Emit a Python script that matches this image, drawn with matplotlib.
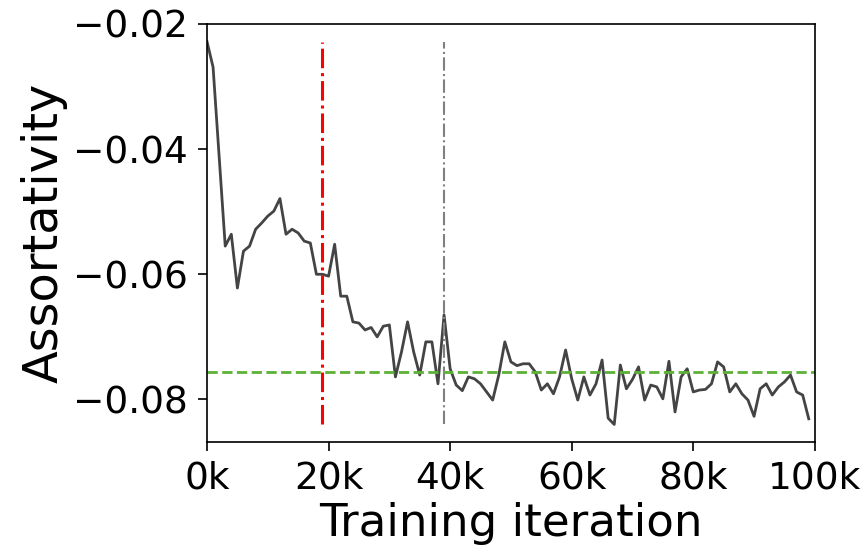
import numpy as np
import matplotlib
matplotlib.use('Agg')
import matplotlib.pyplot as plt
from matplotlib.ticker import FuncFormatter

# assortativity sampled every 1k training iterations
iters_k = list(range(0, 100))
assort = [-0.0228, -0.0269, -0.0412, -0.0555, -0.0536, -0.0622, -0.0563, -0.0555, -0.0528, -0.0518,
          -0.0507, -0.0499, -0.0479, -0.0536, -0.0528, -0.0534, -0.0547, -0.0550, -0.0600, -0.0600,
          -0.0603, -0.0552, -0.0635, -0.0635, -0.0676, -0.0678, -0.0689, -0.0685, -0.0700, -0.0683,
          -0.0681, -0.0764, -0.0724, -0.0676, -0.0724, -0.0761, -0.0708, -0.0708, -0.0775, -0.0665,
          -0.0751, -0.0777, -0.0786, -0.0764, -0.0767, -0.0775, -0.0788, -0.0801, -0.0761, -0.0708,
          -0.0740, -0.0746, -0.0743, -0.0743, -0.0756, -0.0785, -0.0775, -0.0791, -0.0764, -0.0721,
          -0.0767, -0.0801, -0.0764, -0.0793, -0.0775, -0.0737, -0.0830, -0.0840, -0.0745, -0.0783,
          -0.0768, -0.0748, -0.0801, -0.0777, -0.0780, -0.0799, -0.0739, -0.0820, -0.0764, -0.0751,
          -0.0788, -0.0785, -0.0784, -0.0775, -0.0740, -0.0748, -0.0788, -0.0775, -0.0791, -0.0801,
          -0.0827, -0.0783, -0.0775, -0.0793, -0.0780, -0.0772, -0.0761, -0.0788, -0.0793, -0.0831]
red_marker = 19000
gray_marker = 39000
baseline = -0.0756

iters = np.array(iters_k) * 1000
vals = np.array(assort)

fig = plt.figure(figsize=(8.65, 5.54), dpi=100)
ax = fig.add_axes([0.2393, 0.2022, 0.7027, 0.7545])

ax.plot(iters, vals, color='#444444', lw=2)
ax.vlines(red_marker, vals.min(), vals.max(), colors='red', linestyles='-.', lw=2.2)
ax.vlines(gray_marker, vals.min(), vals.max(), colors='gray', linestyles='-.', lw=1.5)
ax.axhline(baseline, color='#5cb135', ls='--', lw=2)

ax.set_xlim(0, 100000)
ax.set_ylim(-0.0868, -0.02)
ax.set_xticks(np.arange(0, 100001, 20000))
ax.set_yticks([-0.08, -0.06, -0.04, -0.02])
ax.xaxis.set_major_formatter(FuncFormatter(lambda x, p: '{}k'.format(int(x / 1000))))
ax.tick_params(labelsize=27, length=6.5, width=1.2, pad=7)
for s in ax.spines.values():
    s.set_linewidth(1.2)
ax.set_xlabel('Training iteration', fontsize=32.5)
ax.set_ylabel('Assortativity', fontsize=34.5)

plt.savefig('out.png', dpi=100)
